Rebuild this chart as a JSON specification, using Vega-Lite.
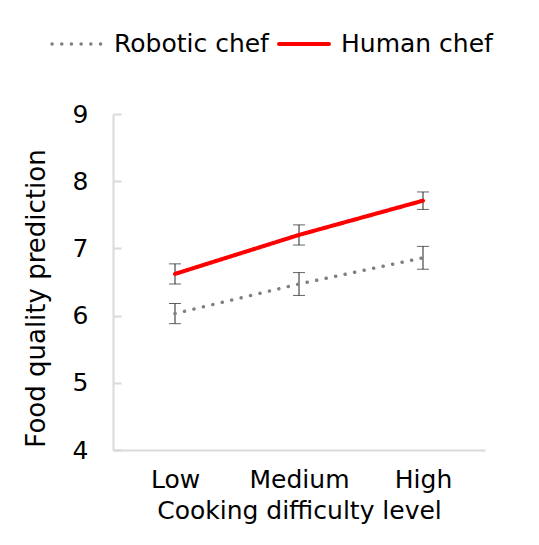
{
  "$schema": "https://vega.github.io/schema/vega-lite/v6.json",
  "width": 372,
  "height": 336,
  "autosize": {"type": "none"},
  "padding": {"left": 113, "top": 114, "right": 54, "bottom": 95},
  "background": "white",
  "config": {
    "view": {"stroke": null},
    "font": "DejaVu Sans",
    "axis": {
      "domainColor": "#d9d9d9",
      "domainWidth": 2,
      "grid": false,
      "labelColor": "#000000",
      "titleColor": "#000000",
      "labelFont": "DejaVu Sans",
      "titleFont": "DejaVu Sans",
      "labelFontSize": 25,
      "titleFontSize": 25,
      "titleFontWeight": "normal"
    }
  },
  "data": {
    "values": [
      {"level": "Low", "chef": "Robotic chef", "mean": 6.03, "lo": 5.88, "hi": 6.18},
      {"level": "Medium", "chef": "Robotic chef", "mean": 6.47, "lo": 6.30, "hi": 6.64},
      {"level": "High", "chef": "Robotic chef", "mean": 6.86, "lo": 6.69, "hi": 7.03},
      {"level": "Low", "chef": "Human chef", "mean": 6.62, "lo": 6.47, "hi": 6.77},
      {"level": "Medium", "chef": "Human chef", "mean": 7.20, "lo": 7.05, "hi": 7.35},
      {"level": "High", "chef": "Human chef", "mean": 7.71, "lo": 7.58, "hi": 7.84}
    ]
  },
  "encoding": {
    "x": {
      "field": "level",
      "type": "nominal",
      "sort": ["Low", "Medium", "High"],
      "scale": {"type": "point", "padding": 0.5},
      "axis": {
        "title": "Cooking difficulty level",
        "labelAngle": 0,
        "ticks": false,
        "labelPadding": 17,
        "titlePadding": 6
      }
    }
  },
  "layer": [
    {
      "mark": {"type": "rule", "color": "#222222", "strokeWidth": 1},
      "encoding": {
        "y": {"field": "lo", "type": "quantitative"},
        "y2": {"field": "hi"}
      }
    },
    {
      "mark": {"type": "tick", "orient": "horizontal", "color": "#222222", "size": 12, "thickness": 1},
      "encoding": {"y": {"field": "lo", "type": "quantitative"}}
    },
    {
      "mark": {"type": "tick", "orient": "horizontal", "color": "#222222", "size": 12, "thickness": 1},
      "encoding": {"y": {"field": "hi", "type": "quantitative"}}
    },
    {
      "mark": {"type": "line", "strokeCap": "round"},
      "encoding": {
        "y": {
          "field": "mean",
          "type": "quantitative",
          "scale": {"domain": [4, 9], "nice": false, "zero": false},
          "axis": {
            "title": "Food quality prediction",
            "titleFontSize": 26,
            "titleY": 184,
            "values": [4, 5, 6, 7, 8, 9],
            "format": "d",
            "tickSize": -8,
            "tickColor": "#d9d9d9",
            "tickWidth": 2,
            "labelPadding": 33,
            "titlePadding": 23
          }
        },
        "color": {
          "field": "chef",
          "type": "nominal",
          "scale": {"domain": ["Robotic chef", "Human chef"], "range": ["#808080", "#ff0000"]},
          "legend": {
            "title": null,
            "orient": "none",
            "legendX": -63,
            "legendY": -97,
            "direction": "horizontal",
            "symbolType": "stroke",
            "symbolSize": 2500,
            "symbolStrokeWidth": 3.5,
            "labelFontSize": 25,
            "labelFont": "DejaVu Sans",
            "labelColor": "#000000",
            "columnPadding": 2,
            "labelOffset": 10,
            "encode": {
              "symbols": {"update": {"strokeCap": {"value": "round"}}}
            }
          }
        },
        "strokeDash": {
          "field": "chef",
          "type": "nominal",
          "scale": {"domain": ["Robotic chef", "Human chef"], "range": [[0.1, 9.6], [1, 0]]},
          "legend": null
        },
        "strokeWidth": {
          "field": "chef",
          "type": "nominal",
          "scale": {"domain": ["Robotic chef", "Human chef"], "range": [3.5, 4]},
          "legend": null
        }
      }
    }
  ]
}
